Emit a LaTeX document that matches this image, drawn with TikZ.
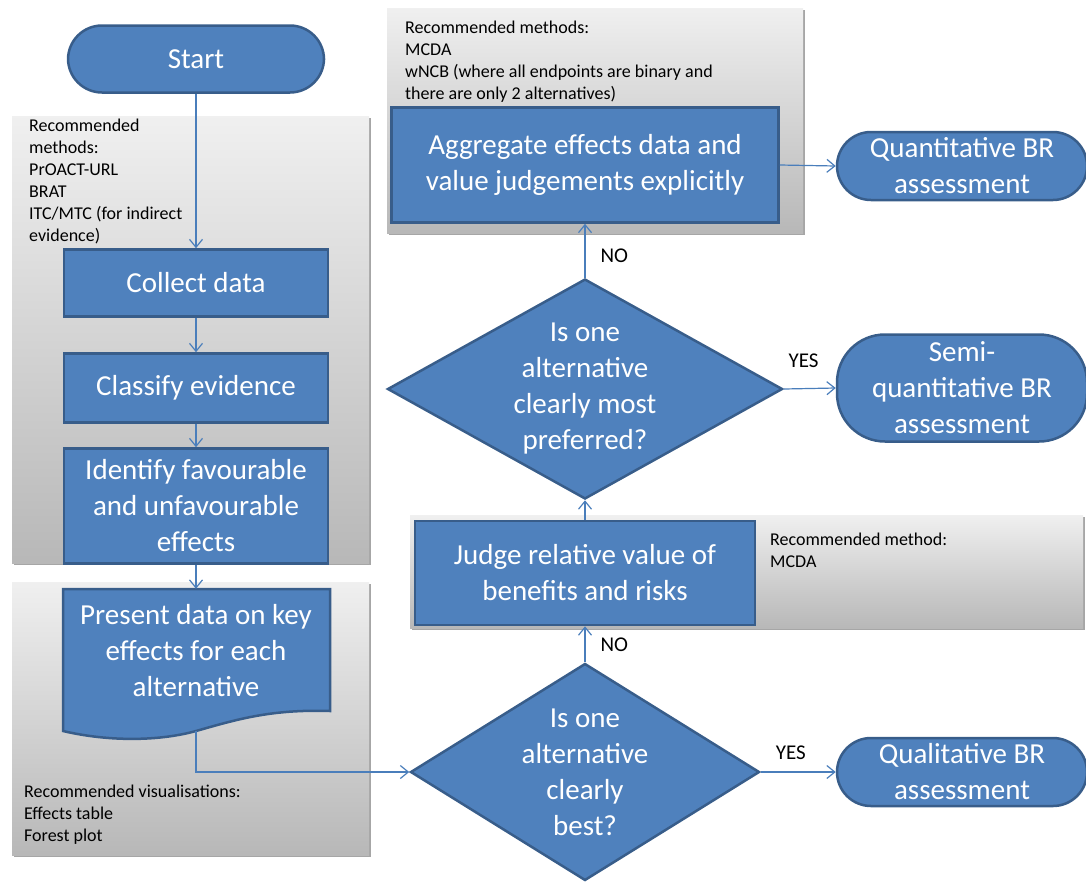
\documentclass[tikz,border=0pt]{standalone}
\usepackage{fontspec}
\setmainfont{Carlito}
\usetikzlibrary{shapes.geometric,shadows,arrows.meta}
\definecolor{boxblue}{HTML}{4F81BD}
\definecolor{boxedge}{HTML}{385D8A}
\definecolor{linkblue}{HTML}{4A7EBB}

\begin{document}
\begin{tikzpicture}[x=1pt,y=-1pt,
  bigtext/.style={font=\fontsize{29}{36}\selectfont, text=white, align=center},
  smalltext/.style={font=\fontsize{18}{22}\selectfont, inner sep=0pt, align=left, anchor=north west},
  process/.style={bigtext, draw=boxedge, fill=boxblue, line width=2.5pt, inner sep=0pt},
  terminal/.style={process, rounded corners=34pt},
  decision/.style={diamond, draw=boxedge, fill=boxblue, line width=2.5pt, inner sep=0pt},
  graybox/.style={top color=black!6, bottom color=black!28,
    drop shadow={shadow xshift=2pt, shadow yshift=-2pt, opacity=0.35, fill=black}},
  link/.style={draw=linkblue, line width=1.2pt, -{Straight Barb[length=8pt,width=13pt]}},
  answer/.style={font=\fontsize{21}{25}\selectfont, inner sep=0pt}]
  \useasboundingbox (0,0) rectangle (1086,881);

  % grey panels with recommended methods
  \path[graybox] (12,116) rectangle (369,563);
  \path[graybox] (12,582) rectangle (369,855);
  \path[graybox] (387,8) rectangle (803,233);
  \path[graybox] (410,515) rectangle (1083,628);

  \node[smalltext] (methodsA) at (29,119) {Recommended\\methods:\\PrOACT-URL\\BRAT\\ITC/MTC (for indirect\\evidence)};
  \node[smalltext] (visuals) at (24,785) {Recommended visualisations:\\Effects table\\Forest plot};
  \node[smalltext] (methodsB) at (405,21) {Recommended methods:\\MCDA\\wNCB (where all endpoints are binary and\\there are only 2 alternatives)};
  \node[smalltext] (methodC) at (770,533) {Recommended method:\\MCDA};

  % left column
  \node[terminal, minimum width=256, minimum height=67] (start) at (196,59) {Start};
  \node[process, minimum width=264, minimum height=67] (collect) at (196,283) {Collect data};
  \node[process, minimum width=264, minimum height=69] (classify) at (196,388) {Classify evidence};
  \node[process, minimum width=264, minimum height=115] (identify) at (196,506) {Identify favourable\\and unfavourable\\effects};
  \path[draw=boxedge, fill=boxblue, line width=2.5pt] (63,589) -- (330,589) -- (330,711)
    .. controls (270,709) and (235,720) .. (196,731)
    .. controls (160,741) and (110,742) .. (63,731) -- cycle;
  \node[bigtext, minimum width=267, minimum height=124, inner sep=0pt] (present) at (196,651) {Present data on key\\effects for each\\alternative};
  \coordinate (presentfoot) at (196,731);

  % right column
  \node[decision, minimum width=349, minimum height=217,
    label={[bigtext]center:{Is one\\alternative\\clearly\\best?}}] (best) at (585,772) {};
  \node[process, minimum width=340, minimum height=104] (judge) at (585,573) {Judge relative value of\\benefits and risks};
  \node[decision, minimum width=395, minimum height=220,
    label={[bigtext]center:{Is one\\alternative\\clearly most\\preferred?}}] (pref) at (585,389) {};
  \node[process, minimum width=387, minimum height=115] (aggregate) at (585,165) {Aggregate effects data and\\value judgements explicitly};
  \node[terminal, minimum width=250, minimum height=68] (quant) at (962,166) {Quantitative BR\\assessment};
  \node[terminal, rounded corners=48pt, minimum width=250, minimum height=107] (semi) at (962,388) {Semi-\\quantitative BR\\assessment};
  \node[terminal, minimum width=250, minimum height=68] (qual) at (962,772) {Qualitative BR\\assessment};

  % connectors
  \draw[link] (start) -- (collect);
  \draw[link] (collect) -- (classify);
  \draw[link] (classify) -- (identify);
  \draw[link] (identify) -- (present);
  \draw[link] (presentfoot) |- (best.west);
  \draw[link] (best.north) -- node[answer, right=15pt] {NO} (judge.south);
  \draw[link] (judge.north) -- (pref.south);
  \draw[link] (pref.north) -- node[answer, right=15pt, pos=0.4] {NO} (aggregate.south);
  \draw[link] (aggregate.east) -- (quant.west);
  \draw[link] (pref.east) -- node[answer, above=20pt, pos=0.38] {YES} (semi.west);
  \draw[link] (best.east) -- node[answer, above=12pt, pos=0.4] {YES} (qual.west);
\end{tikzpicture}
\end{document}
